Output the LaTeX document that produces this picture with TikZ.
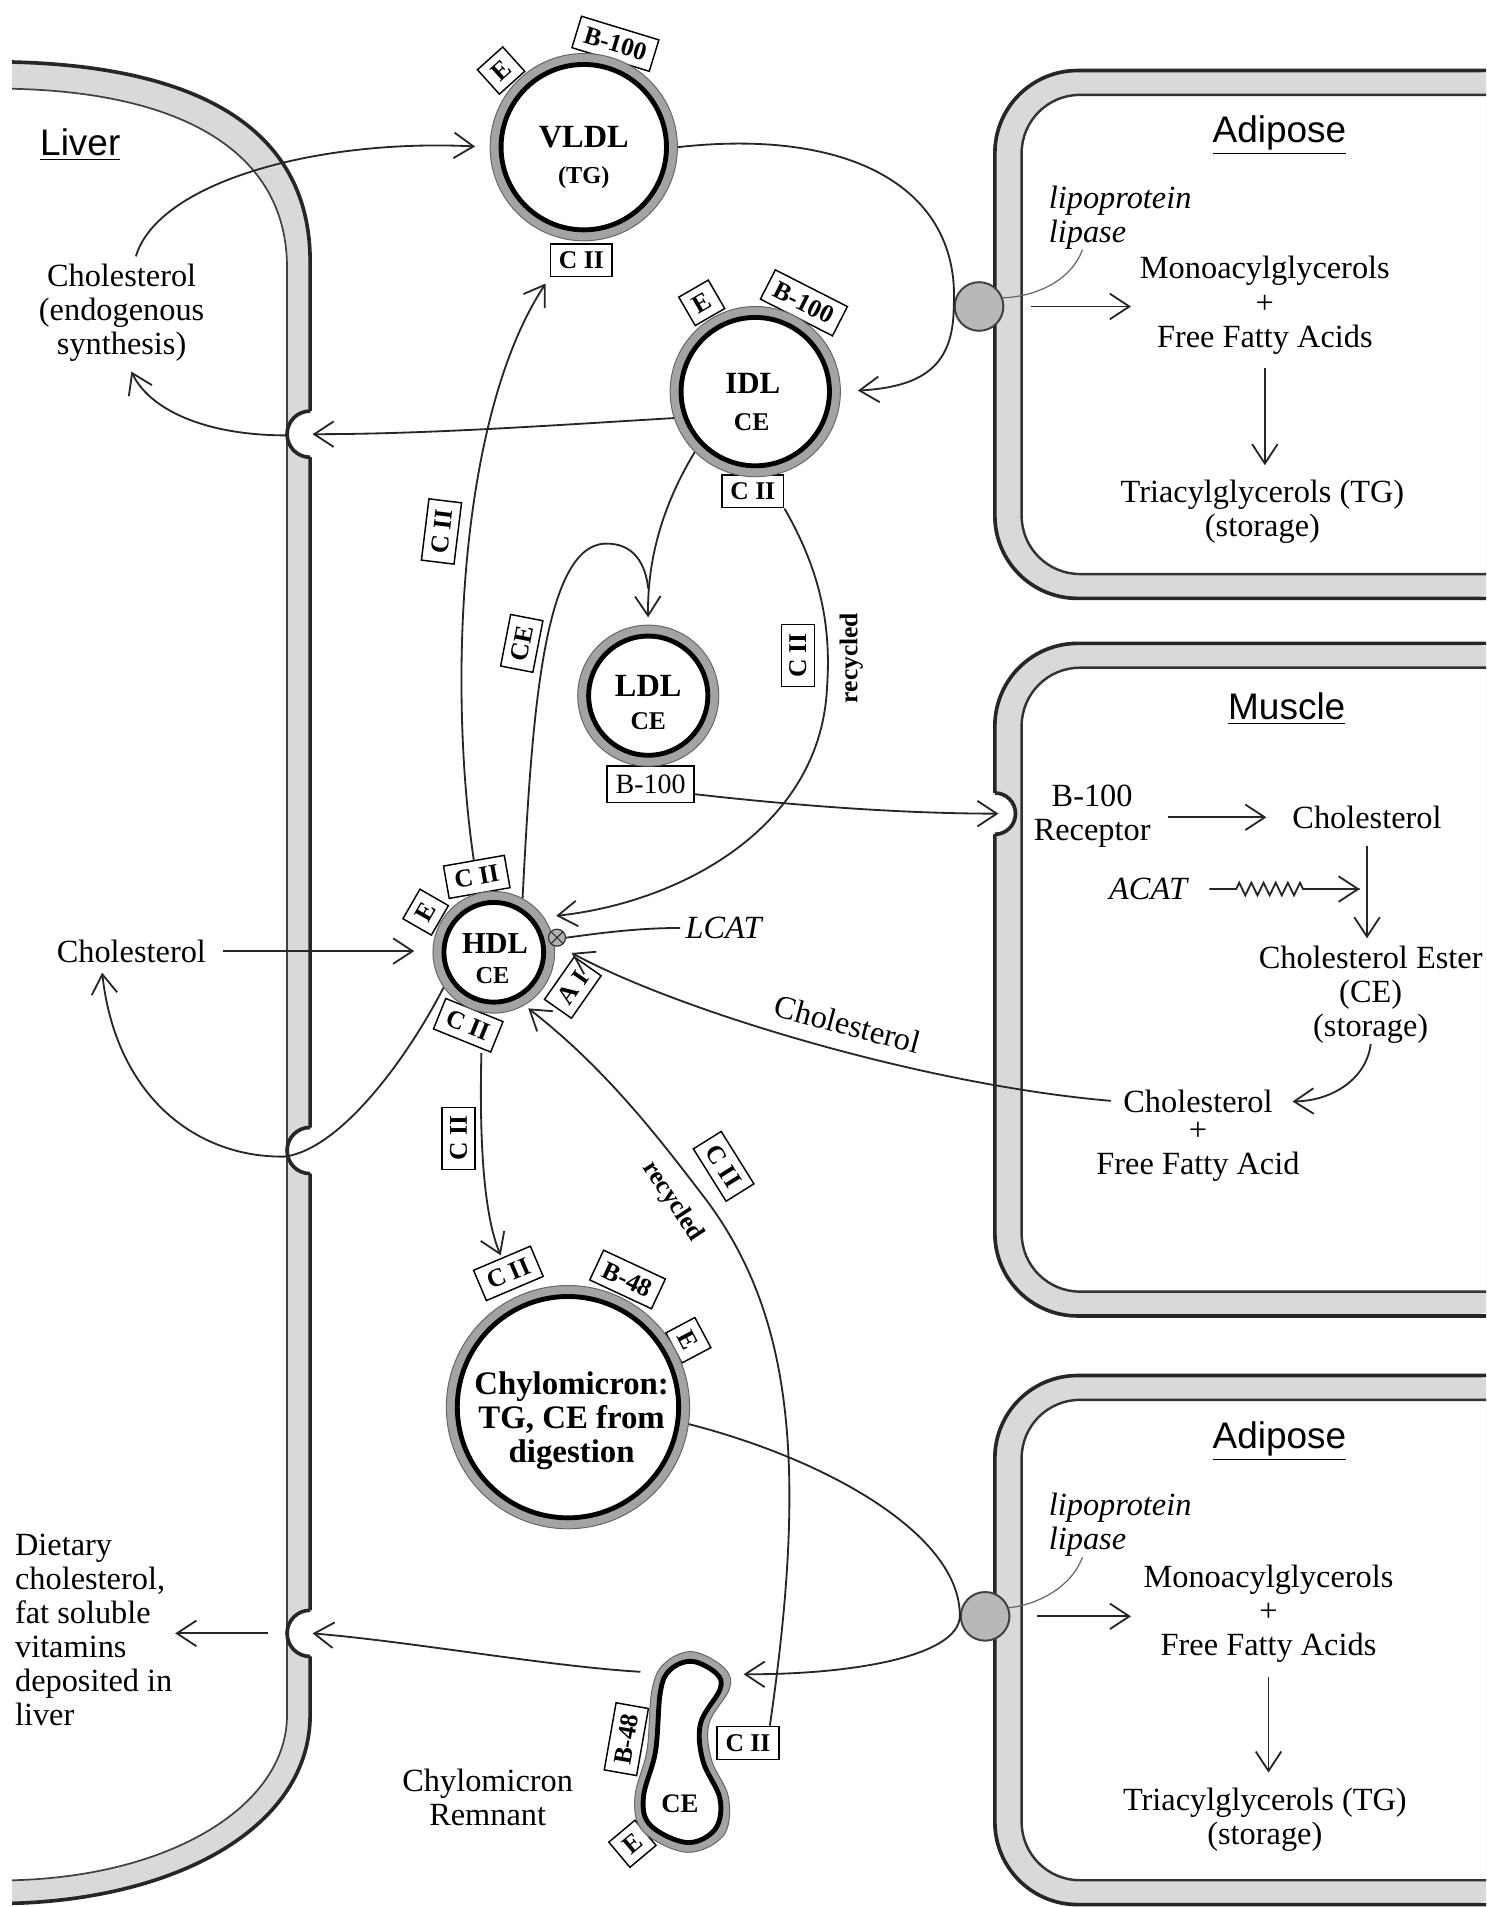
\documentclass[tikz,border=0pt]{standalone}
\usepackage{fontspec}
\setmainfont{Liberation Serif}
\setsansfont{Liberation Sans}
\usetikzlibrary{arrows.meta,decorations.pathmorphing}

% one lipoprotein particle: outer stippled shell and thick inner wall
\newcommand{\lipo}[4]{%
  \node[shell, minimum size=#4pt] (#1) at (#2,#3) {};
  \node[core, minimum size=(#4-9)*1pt] at (#1) {};}

% a body cell on the right: membrane band open to the right edge
\newcommand{\bodycell}[2]{%
  \fill[band, rounded corners=34pt] (1270,#1) -| (818,#2) -- (1270,#2) -- cycle;
  \fill[white, rounded corners=24pt] (1270,#1+20) -| (840,#2-20) -- (1270,#2-20) -- cycle;
  \draw[outerline, rounded corners=34pt] (1270,#1) -| (818,#2) -- (1270,#2);
  \draw[innerline, rounded corners=24pt] (1270,#1+20) -| (840,#2-20) -- (1270,#2-20);}

% a receptor pit in the liver membrane
\newcommand{\liverpit}[1]{%
  \fill[white] (257,#1) circle[radius=19];
  \draw[outerline] (255,#1-19) arc[start angle=270, end angle=90, radius=19];}

\begin{document}
\begin{tikzpicture}[x=0.5pt,y=-0.5pt,
  band/.style={fill=black!15},
  outerline/.style={line width=1.5pt, black!85},
  innerline/.style={line width=1pt, black!80},
  liverinner/.style={line width=0.7pt, black!75},
  shell/.style={circle, inner sep=0pt, fill=black!36, draw=black!60, line width=0.4pt},
  core/.style={circle, inner sep=0pt, fill=white, draw=black, line width=2pt},
  lpl/.style={circle, inner sep=0pt, minimum size=20pt, fill=black!28, draw=black!75, line width=0.8pt},
  apo/.style={draw, fill=white, line width=0.6pt, font=\bfseries\fontsize{10.5}{11}\selectfont,
              inner xsep=3.5pt, inner ysep=0pt, minimum height=13.5pt},
  txt/.style={font=\fontsize{13.3}{14}\selectfont, align=center, inner sep=0pt},
  txtl/.style={txt, align=left},
  itx/.style={font=\itshape\fontsize{13.3}{14}\selectfont, align=left, inner sep=0pt},
  bld/.style={font=\bfseries\fontsize{13.3}{14}\selectfont, align=center, inner sep=0pt},
  bsm/.style={font=\bfseries\fontsize{10.5}{12}\selectfont, inner sep=0pt},
  ttl/.style={font=\sffamily\fontsize{15.2}{16}\selectfont, inner sep=0pt},
  rec/.style={font=\bfseries\fontsize{10.5}{11}\selectfont, inner sep=0pt},
  con/.style={line width=0.75pt, black!85},
  arr/.style={con, -{Straight Barb[length=8pt, width=10.5pt]}},
  note/.style={line width=0.5pt, black!60},
]
\useasboundingbox (0,0) rectangle (1222,1568);
\clip (0,0) rectangle (1222,1568);
\fill[white] (0,0) rectangle (1222,1568);

% ---------------- liver membrane ----------------
\fill[band] (10,51) .. controls (170,55) and (255,110) .. (255,215) -- (255,1410)
  .. controls (255,1500) and (150,1561) .. (10,1565) -- (10,1546)
  .. controls (140,1543) and (236,1485) .. (236,1410) -- (236,220)
  .. controls (236,125) and (150,76) .. (10,73) -- cycle;
\draw[outerline] (10,51) .. controls (170,55) and (255,110) .. (255,215) -- (255,1410)
  .. controls (255,1500) and (150,1561) .. (10,1565);
\draw[liverinner] (10,73) .. controls (150,76) and (236,125) .. (236,220) -- (236,1410)
  .. controls (236,1485) and (140,1543) .. (10,1546);
\liverpit{357}
\liverpit{946}
\liverpit{1343}

% ---------------- adipose, muscle, adipose ----------------
\bodycell{58}{492}
\bodycell{529}{1082}
\bodycell{1131}{1566}
% B-100 receptor pit on the muscle cell
\fill[white] (816,669) circle[radius=17];
\draw[outerline] (818,652) arc[start angle=-90, end angle=90, radius=17];

% lipoprotein lipase on the cell surfaces
\node[lpl] (lpl1) at (805,252) {};
\node[lpl] (lpl2) at (810,1329) {};

% ---------------- apolipoprotein tags ----------------
\node[apo, rotate=42]  (vldlE) at (412,58)  {E};
\node[apo, rotate=-17] (vldlB) at (506,36)  {B-100};
\node[apo]             (vldlC) at (478,214) {C II};
\node[apo, rotate=30]  (idlE)  at (577,249) {E};
\node[apo, rotate=-27] (idlB)  at (661,249) {B-100};
\node[apo]             (idlC)  at (619,404) {C II};
\node[apo, font=\fontsize{11.5}{12}\selectfont, minimum height=15pt] (ldlB) at (535,645) {B-100};
\node[apo, rotate=10]  (hdlCt) at (392,721) {C II};
\node[apo, rotate=60]  (hdlE)  at (350,750) {E};
\node[apo, rotate=55]  (hdlA)  at (471,812) {A I};
\node[apo, rotate=-22] (hdlCb) at (385,843) {C II};
\node[apo, rotate=23]  (chyC)  at (418,1047) {C II};
\node[apo, rotate=-25] (chyB)  at (516,1052) {B-48};
\node[apo, rotate=-62] (chyE)  at (566,1102) {E};
\node[apo, rotate=80]  (remB)  at (515,1430) {B-48};
\node[apo, rotate=40]  (remE)  at (520,1516) {E};
\node[apo]             (remC)  at (615,1433) {C II};
% tags carried along the transfer arrows
\node[apo, rotate=83]  (cii1)  at (363,437) {C II};
\node[apo, rotate=79]  (ce1)   at (429,529) {CE};
\node[apo, rotate=90]  (cii2)  at (656,539) {C II};
\node[apo, rotate=90]  (cii3)  at (377,936) {C II};
\node[apo, rotate=-58] (cii4)  at (595,959) {C II};

% ---------------- lipoprotein particles ----------------
\lipo{vldl}{480}{121}{77}
\lipo{idl}{621}{322}{70}
\lipo{ldl}{533}{572}{58}
\lipo{hdl}{406}{783}{50}
\lipo{chylo}{467}{1157}{100}

\node[bld] (vldlT) at (480,113) {VLDL};
\node[bsm, font=\bfseries\fontsize{10}{11}\selectfont] (vldlS) at (480,146) {(TG)};
\node[bld, font=\bfseries\fontsize{12.7}{14}\selectfont] (idlT) at (619,315) {IDL};
\node[bsm] (idlS) at (618,347) {CE};
\node[bld] (ldlT) at (533,564) {LDL};
\node[bsm] (ldlS) at (533,593) {CE};
\node[bld, font=\bfseries\fontsize{12.5}{14}\selectfont] (hdlT) at (407,776) {HDL};
\node[bsm, font=\bfseries\fontsize{10}{11}\selectfont] (hdlS) at (405,802) {CE};
\node[bld, font=\bfseries\fontsize{13.5}{14}\selectfont] (chyloT) at (470,1168) {Chylomicron:\\TG, CE from\\digestion};

% LCAT site on HDL
\node[circle, draw=black!80, fill=black!30, minimum size=7pt, inner sep=0pt, line width=0.5pt,
      path picture={\draw[line width=0.45pt]
        (path picture bounding box.north west) -- (path picture bounding box.south east)
        (path picture bounding box.north east) -- (path picture bounding box.south west);}]
      (oplus) at (458,771) {};

% chylomicron remnant
\filldraw[fill=black!36, draw=black!60, line width=0.4pt] plot[smooth cycle, tension=0.6] coordinates {
  (569,1358) (595,1371) (600,1388) (583,1417) (585,1447) (599,1478) (595,1509)
  (565,1523) (529,1506) (522,1478) (532,1439) (536,1390) (546,1368)};
\filldraw[fill=white, draw=black, line width=2pt] plot[smooth cycle, tension=0.6] coordinates {
  (569,1366) (589,1376) (592,1389) (576,1417) (578,1448) (592,1479) (588,1504)
  (565,1515) (535,1501) (529,1478) (539,1440) (543,1391) (551,1373)};
\node[inner sep=0pt, minimum width=40pt, minimum height=83pt] (rem) at (561,1440) {};
\node[bsm, font=\bfseries\fontsize{11}{12}\selectfont] (remS) at (559,1483) {CE};

% ---------------- labels ----------------
\node[ttl] (liverT) at (66,119) {\underline{Liver}};
\node[txt] (endo) at (100,257) {Cholesterol\\(endogenous\\synthesis)};
\node[ttl] (adiT1) at (1052,111) {\underline{Adipose}};
\node[itx, anchor=west] (lip1) at (862,179) {lipoprotein\\lipase};
\node[txt] (mono1) at (1040,251) {Monoacylglycerols\\+\\Free Fatty Acids};
\node[txt] (tg1) at (1038,421) {Triacylglycerols (TG)\\(storage)};
\node[ttl] (musT) at (1058,583) {\underline{Muscle}};
\node[txt] (b100r) at (898,671) {B-100\\Receptor};
\node[txt] (mchol) at (1124,672) {Cholesterol};
\node[itx] (acat) at (944,731) {ACAT};
\node[txt] (ester) at (1127,818) {Cholesterol Ester\\(CE)\\(storage)};
\node[txt] (mchol2) at (985,906) {Cholesterol};
\node[txt] (ffa) at (985,947) {+\\Free Fatty Acid};
\node[txt] (lchol) at (108,782) {Cholesterol};
\node[itx] (lcat) at (595,763) {LCAT};
\node[txt, rotate=-15] (cholLbl) at (697,842) {Cholesterol};
\node[ttl] (adiT2) at (1052,1185) {\underline{Adipose}};
\node[itx, anchor=west] (lip2) at (862,1254) {lipoprotein\\lipase};
\node[txt] (mono2) at (1043,1327) {Monoacylglycerols\\+\\Free Fatty Acids};
\node[txt] (tg2) at (1040,1496) {Triacylglycerols (TG)\\(storage)};
\node[txtl, anchor=west] (diet) at (12,1340) {Dietary\\cholesterol,\\fat soluble\\vitamins\\deposited in\\liver};
\node[txt] (remT) at (401,1478) {Chylomicron\\Remnant};
\node[rec, rotate=90]  (rec1) at (700,541) {recycled};
\node[rec, rotate=-57] (rec2) at (553,988) {recycled};

% receptor pits and free ends
\coordinate (n1) at (257,357);
\coordinate (n1in) at (236,358);
\coordinate (n2in) at (234,951);
\coordinate (n3) at (257,1343);
\coordinate (n3in) at (220,1343);
\coordinate (r1) at (821,669);
\coordinate (join) at (533,484);

% ---------------- connectors ----------------
% liver cholesterol packed into VLDL
\draw[arr, shorten <=3pt, shorten >=6pt] ([xshift=5pt]endo.north) .. controls (130,150) and (260,114) .. (vldl.west);
% VLDL -> lipoprotein lipase -> IDL
\draw[arr, shorten >=7pt] (vldl.east) .. controls (700,105) and (790,155) .. (lpl1.west)
  .. controls (784,300) and (760,318) .. (idl.east);
\draw[note] ([xshift=14pt]lip1.south west) .. controls (880,232) and (850,244) .. (lpl1.20);
\draw[arr, shorten <=11pt, shorten >=3.5pt] (lpl1.east) -- (lpl1.east -| mono1.west);
\draw[arr, shorten <=5.5pt, shorten >=6pt] (mono1.south) -- (mono1.south |- tg1.north);
% IDL -> liver
\draw[arr] (idl.198) .. controls (450,350) and (350,357) .. (n1);
\draw[arr] (n1in) .. controls (165,358) and (122,335) .. ([xshift=4pt,yshift=-4pt]endo.south);
% IDL -> LDL
\draw[arr, shorten >=3pt] (idl.225) .. controls (548,410) and (532,455) .. (ldl.north);
\draw[con] (hdl.62) .. controls (437,600) and (445,450) .. (497,447) .. controls (522,446) and (531,465) .. (join);
% HDL gives C II to VLDL
\draw[arr, shorten >=3pt] (hdlCt.north) .. controls (368,560) and (378,340) .. (vldlC.south west);
% C II recycled from IDL to HDL
\draw[arr, shorten >=5pt] (idlC.south east) .. controls (672,465) and (684,510) .. (680,565)
  .. controls (675,680) and (560,742) .. (hdl.35);
% LDL -> muscle receptor
\draw[arr] ([yshift=-4pt]ldlB.east) .. controls (650,662) and (740,669) .. (r1);
% inside the muscle cell
\draw[arr, shorten <=7pt, shorten >=10.5pt] (b100r.east |- mchol.west) -- (mchol.west);
\draw[arr, shorten <=7pt, shorten >=3pt] (mchol.south) -- (mchol.south |- ester.north);
\draw[con, decorate, decoration={zigzag, segment length=5pt, amplitude=2.6pt, pre length=11pt, post length=21pt}]
  ([xshift=9pt]acat.east) -- ([xshift=-3pt]acat.east -| mchol.south);
\draw[arr] ([xshift=-14pt]acat.east -| mchol.south) -- ([xshift=-3pt]acat.east -| mchol.south);
\draw[arr, shorten >=8pt] (ester.south) .. controls (1124,885) and (1098,905) .. (mchol2.east);
% cholesterol back to HDL
\draw[arr, shorten <=5pt, shorten >=8pt] (mchol2.west) .. controls (760,892) and (560,832) .. (hdl.8);
\draw[con, shorten <=2pt] (lcat.west) .. controls (525,763) and (495,767) .. (oplus.east);
\draw[arr, shorten <=7pt, shorten >=7.5pt] (lchol.east) -- (lchol.east -| hdl.west);
% HDL -> liver -> cholesterol
\draw[arr] (hdl.215) .. controls (335,870) and (280,945) .. (n2in)
  .. controls (160,952) and (95,900) .. ([xshift=-12pt,yshift=-4pt]lchol.south);
% HDL gives C II to chylomicron
\draw[arr, shorten >=1pt] ([xshift=-4pt]hdlCb.south east) .. controls (394,940) and (398,1000) .. (chyC.north);
% C II recycled from the remnant to HDL
\draw[arr, shorten >=2pt] ([xshift=-4pt]remC.north east) .. controls (665,1200) and (650,1080) .. (581,987)
  .. controls (545,940) and (500,880) .. (hdl.-60);
% chylomicron -> lipoprotein lipase -> remnant
\draw[arr] (chylo.-8) .. controls (680,1200) and (790,1262) .. (lpl2.west)
  .. controls (788,1362) and (700,1377) .. ([xshift=5pt,yshift=-10pt]rem.north east);
\draw[note] ([xshift=14pt]lip2.south west) .. controls (880,1307) and (850,1320) .. (lpl2.20);
\draw[arr, shorten <=11pt, shorten >=5pt] (lpl2.east) -- (lpl2.east -| mono2.west);
\draw[arr, shorten <=5.5pt, shorten >=6pt] (mono2.south) -- (mono2.south |- tg2.north);
% remnant -> liver
\draw[arr] ([xshift=3pt,yshift=-9pt]rem.north west) .. controls (450,1370) and (340,1350) .. (n3);
\draw[arr, shorten >=1pt] (n3in) -- (n3in -| diet.east);
\end{tikzpicture}
\end{document}
